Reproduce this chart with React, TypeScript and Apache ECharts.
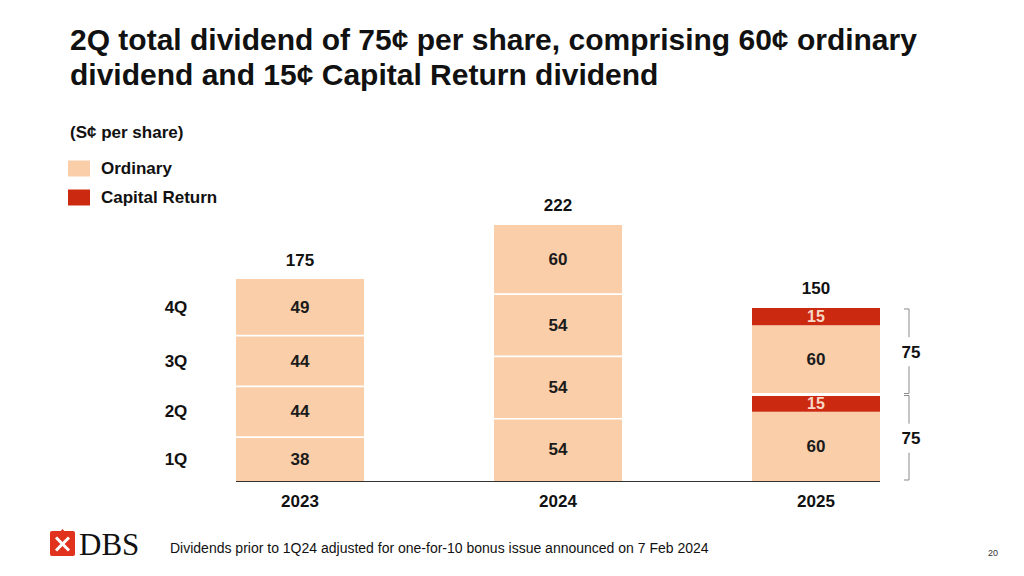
import React, { useEffect, useRef } from "react";
import * as echarts from "echarts";

const categories = ["2023", "2024", "2025"];
const quarterNames = ["1Q", "2Q", "3Q", "4Q"];
const ordinary1Q = [38, 54, 60];
const capital1Q = [0, 0, 15];
const ordinary2Q = [44, 54, 60];
const capital2Q = [0, 0, 15];
const ordinary3Q = [44, 54, 0];
const ordinary4Q = [49, 60, 0];
const bracketCategoryIndex = 2;

const titleLines = [
  "2Q total dividend of 75¢ per share, comprising 60¢ ordinary",
  "dividend and 15¢ Capital Return dividend",
];
const unitText = "(S¢ per share)";
const footnote = "Dividends prior to 1Q24 adjusted for one-for-10 bonus issue announced on 7 Feb 2024";
const pageNumber = "20";

const ORD = "#F9CEA9";
const CAP = "#CC2A10";
const FONT = '"Liberation Sans", Arial, sans-serif';
const BAR_W = 128;
const LBL = 17;

const quarterOrd = [ordinary1Q, ordinary2Q, ordinary3Q, ordinary4Q];
const quarterCap = [capital1Q, capital2Q, null, null];
const quarterTotal = quarterOrd.map((arr, q) =>
  arr.map((v, i) => v + (quarterCap[q] ? (quarterCap[q] as number[])[i] : 0))
);
const totals = categories.map((_, i) => quarterTotal.reduce((s, arr) => s + arr[i], 0));

const separators: number[][] = [];
categories.forEach((_, i) => {
  let cum = 0;
  for (let q = 0; q < 4; q++) {
    cum += quarterTotal[q][i];
    if (q < 3 && quarterTotal[q + 1][i] > 0) separators.push([i, cum]);
  }
});

const quarterLabelData: any[] = [];
{
  let cum = 0;
  for (let q = 0; q < 4; q++) {
    quarterLabelData.push([0, cum + quarterTotal[q][0] / 2, quarterNames[q]]);
    cum += quarterTotal[q][0];
  }
}

const bracketData: any[] = [];
{
  let cum = 0;
  for (let q = 0; q < 4; q++) {
    const v = quarterTotal[q][bracketCategoryIndex];
    if (v > 0) bracketData.push([bracketCategoryIndex, cum, cum + v, v]);
    cum += v;
  }
}

const labelInside = (color: string, size: number) => ({
  show: true,
  position: "inside" as const,
  color,
  fontFamily: FONT,
  fontWeight: "bold" as const,
  fontSize: size,
  formatter: (p: any) => (p.value > 0 ? String(p.value) : ""),
});

const ordSeries = (data: number[]) => ({
  type: "bar",
  name: "Ordinary",
  stack: "total",
  barWidth: BAR_W,
  data,
  itemStyle: { color: ORD },
  label: labelInside("#1b1b1b", LBL),
  z: 2,
});
const capSeries = (data: number[]) => ({
  type: "bar",
  name: "Capital Return",
  stack: "total",
  barWidth: BAR_W,
  data,
  itemStyle: { color: CAP },
  label: labelInside("#F7D9C6", 16),
  z: 2,
});

const textStyle = (text: string, extra: any = {}) => ({
  text,
  fill: "#111",
  fontFamily: FONT,
  fontWeight: "bold",
  fontSize: LBL,
  align: "center",
  verticalAlign: "middle",
  ...extra,
});

export default function App() {
  const ref = useRef<HTMLDivElement>(null);
  useEffect(() => {
    if (!ref.current) return;
    const chart = echarts.init(ref.current, null, { renderer: "svg" });
    const option: any = {
      animation: false,
      backgroundColor: "#ffffff",
      textStyle: { fontFamily: FONT },
      grid: { left: 171, right: 79, top: 192.6, bottom: 95, containLabel: false },
      legend: {
        orient: "vertical",
        left: 68,
        top: 160,
        itemWidth: 22,
        itemHeight: 16,
        itemGap: 12,
        padding: 0,
        icon: "rect",
        selectedMode: false,
        data: [
          { name: "Ordinary", itemStyle: { color: ORD } },
          { name: "Capital Return", itemStyle: { color: CAP } },
        ],
        textStyle: {
          fontFamily: FONT,
          fontWeight: "bold",
          fontSize: 17,
          color: "#111",
          lineHeight: 16,
          padding: [0, 0, 0, 6],
        },
      },
      xAxis: {
        type: "category",
        data: categories,
        axisLine: { show: false },
        axisTick: { show: false },
        axisLabel: {
          margin: 12,
          fontFamily: FONT,
          fontWeight: "bold",
          fontSize: LBL,
          color: "#111",
        },
      },
      yAxis: {
        type: "value",
        min: 0,
        max: 250,
        show: false,
        splitLine: { show: false },
      },
      series: [
        ordSeries(ordinary1Q),
        capSeries(capital1Q),
        ordSeries(ordinary2Q),
        capSeries(capital2Q),
        ordSeries(ordinary3Q),
        ordSeries(ordinary4Q),
        {
          type: "custom",
          name: "separators",
          data: separators,
          clip: false,
          z: 5,
          renderItem: (params: any, api: any) => {
            const i = api.value(0);
            const p = api.coord([i, api.value(1)]);
            const w = i === bracketCategoryIndex ? 3 : 1.6;
            return {
              type: "line",
              shape: { x1: p[0] - BAR_W / 2, y1: p[1], x2: p[0] + BAR_W / 2, y2: p[1] },
              style: { stroke: "#ffffff", lineWidth: w },
            };
          },
        },
        {
          type: "custom",
          name: "baseline",
          data: [[0, 0]],
          clip: false,
          z: 6,
          renderItem: (params: any, api: any) => {
            const a = api.coord([0, 0]);
            const b = api.coord([categories.length - 1, 0]);
            return {
              type: "line",
              shape: { x1: a[0] - BAR_W / 2, y1: a[1] + 0.5, x2: b[0] + BAR_W / 2, y2: b[1] + 0.5 },
              style: { stroke: "#333333", lineWidth: 1 },
            };
          },
        },
        {
          type: "custom",
          name: "totals",
          data: totals.map((t, i) => [i, t]),
          clip: false,
          z: 6,
          renderItem: (params: any, api: any) => {
            const p = api.coord([api.value(0), api.value(1)]);
            return { type: "text", x: p[0], y: p[1] - 19, style: textStyle(String(api.value(1))) };
          },
        },
        {
          type: "custom",
          name: "quarters",
          data: quarterLabelData,
          clip: false,
          z: 6,
          renderItem: (params: any, api: any) => {
            const p = api.coord([api.value(0), api.value(1)]);
            return {
              type: "text",
              x: p[0] - 124,
              y: p[1],
              style: textStyle(quarterLabelData[params.dataIndex][2]),
            };
          },
        },
        {
          type: "custom",
          name: "brackets",
          data: bracketData,
          clip: false,
          z: 6,
          renderItem: (params: any, api: any) => {
            const i = api.value(0);
            const lo = api.coord([i, api.value(1)]);
            const hi = api.coord([i, api.value(2)]);
            const xr = lo[0] + 93;
            const xl = lo[0] + 88;
            const yTop = hi[1] + 1;
            const yBot = lo[1] - 1;
            const mid = (yTop + yBot) / 2;
            const stroke = { stroke: "#8a8a8a", lineWidth: 1, fill: "none" };
            return {
              type: "group",
              children: [
                { type: "polyline", shape: { points: [[xl, yTop], [xr, yTop], [xr, mid - 14]] }, style: stroke },
                { type: "polyline", shape: { points: [[xr, mid + 15], [xr, yBot], [xl, yBot]] }, style: stroke },
                { type: "text", x: xr + 2, y: mid + 1, style: textStyle(String(api.value(3))) },
              ],
            };
          },
        },
      ],
      graphic: [
        {
          type: "text",
          x: 70,
          y: 22,
          style: {
            text: titleLines.join("\n"),
            fill: "#111",
            fontFamily: FONT,
            fontWeight: "bold",
            fontSize: 30,
            lineHeight: 35,
            verticalAlign: "top",
          },
        },
        {
          type: "text",
          x: 70,
          y: 132,
          style: {
            text: unitText,
            fill: "#111",
            fontFamily: FONT,
            fontWeight: "bold",
            fontSize: 17,
            verticalAlign: "middle",
          },
        },
        {
          type: "text",
          x: 170,
          y: 548,
          style: { text: footnote, fill: "#111", fontFamily: FONT, fontSize: 14, verticalAlign: "middle" },
        },
        {
          type: "text",
          x: 993,
          y: 553,
          style: {
            text: pageNumber,
            fill: "#333",
            fontFamily: FONT,
            fontSize: 9,
            align: "center",
            verticalAlign: "middle",
          },
        },
        {
          type: "group",
          x: 50,
          y: 530,
          children: [
            { type: "rect", shape: { x: 0, y: 1, width: 25, height: 25, r: 2 }, style: { fill: "#E0321C" } },
            { type: "polygon", shape: { points: [[12.5, -1], [17, 4], [12.5, 9], [8, 4]] }, style: { fill: "#E0321C" } },
            { type: "line", shape: { x1: 6, y1: 7.5, x2: 19, y2: 20.5 }, style: { stroke: "#ffffff", lineWidth: 3 } },
            { type: "line", shape: { x1: 19, y1: 7.5, x2: 6, y2: 20.5 }, style: { stroke: "#ffffff", lineWidth: 3 } },
            {
              type: "text",
              x: 29,
              y: 14,
              style: {
                text: "DBS",
                fill: "#111",
                fontFamily: '"Liberation Serif", "DejaVu Serif", serif',
                fontSize: 31,
                verticalAlign: "middle",
              },
            },
          ],
        },
      ],
    };
    chart.setOption(option);
    return () => chart.dispose();
  }, []);
  return <div ref={ref} style={{ width: 1024, height: 576, margin: -8 }} />;
}
